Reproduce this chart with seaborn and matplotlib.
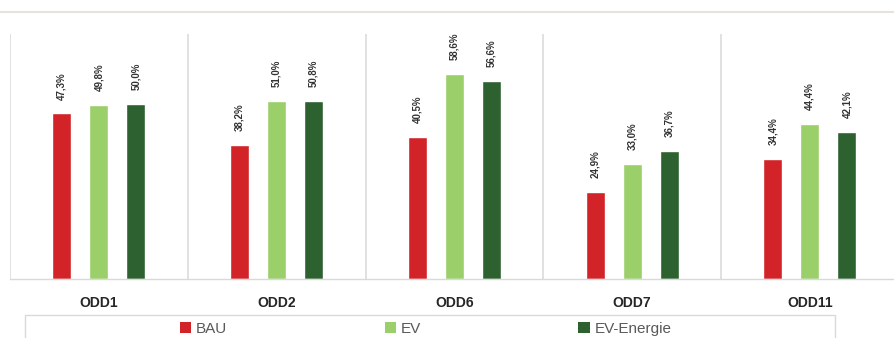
import matplotlib
matplotlib.use("Agg")
import matplotlib.pyplot as plt
from matplotlib.patches import Rectangle
from matplotlib.lines import Line2D
import numpy as np
import pandas as pd
import seaborn as sns

# Data: share per ODD under each scenario (%)
categories = ["ODD1", "ODD2", "ODD6", "ODD7", "ODD11"]
scenarios = ["BAU", "EV", "EV-Energie"]
bau = [47.3, 38.2, 40.5, 24.9, 34.4]
ev = [49.8, 51.0, 58.6, 33.0, 44.4]
ev_energie = [50.0, 50.8, 56.6, 36.7, 42.1]
colors = ["#D22328", "#9BCF69", "#2E6130"]

df = pd.DataFrame({
    "ODD": categories * 3,
    "Scenario": ["BAU"] * 5 + ["EV"] * 5 + ["EV-Energie"] * 5,
    "Value": bau + ev + ev_energie,
})

sns.set_theme(style="white")
plt.rcParams["font.family"] = ["Liberation Sans", "DejaVu Sans"]

W, H = 894, 338
fig = plt.figure(figsize=(W / 100, H / 100), dpi=100)
ax = fig.add_axes([10 / W, (H - 279) / H, 888.75 / W, 245 / H])

sns.barplot(data=df, x="ODD", y="Value", hue="Scenario", order=categories,
            hue_order=scenarios, palette=colors, width=0.625, gap=0.486,
            saturation=1, legend=False, ax=ax)

ax.set_ylim(0, 70)
ax.set_xlim(-0.5, len(categories) - 0.5)
ax.set_xlabel("")
ax.set_ylabel("")
ax.set_yticks([])

# Category separators
ax.set_xticks(np.arange(len(categories) + 1) - 0.5, minor=True)
ax.grid(True, which="minor", axis="x", color="#DCDCDC", linewidth=1.2)
ax.grid(False, which="major")
ax.tick_params(axis="x", which="both", length=0, pad=12)
for lab in ax.get_xticklabels():
    lab.set_fontweight("bold")
    lab.set_fontsize(10)
    lab.set_color("#262626")

for side in ["top", "left", "right"]:
    ax.spines[side].set_visible(False)
ax.spines["bottom"].set_color("#D9D9D9")
ax.spines["bottom"].set_linewidth(1.0)

for cont in ax.containers:
    ax.bar_label(cont, fmt=lambda v: f"{v:.1f}%".replace(".", ","),
                 rotation=90, padding=10, fontsize=7, fontweight="bold",
                 color="#333333")

# Thin rule across the top
fig.add_artist(Line2D([0, 1], [1 - 11.5 / H, 1 - 11.5 / H],
                      transform=fig.transFigure, color="#E6E3DA", linewidth=1.5))

# Legend frame
fig.add_artist(Rectangle((25 / W, -0.05), (835 - 25) / W, 0.05 + (H - 315) / H,
                         transform=fig.transFigure, fill=False,
                         edgecolor="#D9D9D9", linewidth=1.0))

handles = [Rectangle((0, 0), 1, 1, facecolor=c, edgecolor="none") for c in colors]
leg = fig.legend(handles, scenarios, loc="center left",
                 bbox_to_anchor=(180 / W, 1 - 329 / H), ncol=3, frameon=False,
                 fontsize=11, handlelength=0.75, handleheight=0.75,
                 handletextpad=0.3, columnspacing=10.3, borderpad=0,
                 borderaxespad=0)
for t in leg.get_texts():
    t.set_color("#595959")

fig.savefig("out.png", dpi=100)
